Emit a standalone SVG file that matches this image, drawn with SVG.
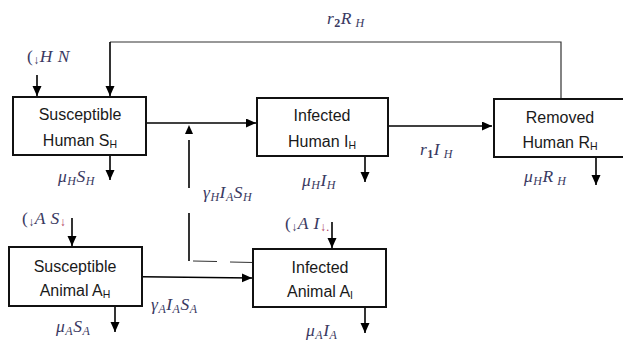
<svg xmlns="http://www.w3.org/2000/svg" width="623" height="348" viewBox="0 0 623 348">
<defs>
<marker id="ah" markerUnits="userSpaceOnUse" markerWidth="11" markerHeight="10" refX="10" refY="4.5" orient="auto">
<path d="M0,0 L10,4.5 L0,9 z" fill="#000"/>
</marker>
<style>
.box{fill:#fff;stroke:#111;stroke-width:2}
.bt{font-family:"Liberation Sans",Arial,sans-serif;font-size:16px;fill:#1a1a1a;text-anchor:middle}
.bs{font-size:10.5px}
.m{font-family:"Liberation Serif","Times New Roman",serif;font-style:italic;font-size:17.5px;fill:#3a3a62;letter-spacing:0.5px}
.s{font-size:12px}
.ln{fill:none;stroke:#000;stroke-width:1.6}
.fb{fill:none;stroke:#333;stroke-width:1.2}
</style>
</defs>
<rect width="623" height="348" fill="#fff"/>
<g id="connectors">
<path class="fb" d="M561,99 V42 H110"/>
<line class="ln" x1="110" y1="42" x2="110" y2="96" marker-end="url(#ah)"/>
<line class="ln" x1="37" y1="75" x2="37" y2="96" marker-end="url(#ah)"/>
<line class="ln" x1="146" y1="123" x2="256" y2="123" marker-end="url(#ah)"/>
<line class="ln" x1="388" y1="126" x2="492" y2="126" marker-end="url(#ah)"/>
<line class="ln" x1="189" y1="188" x2="189" y2="140"/>
<line class="ln" x1="189" y1="261" x2="189" y2="213"/>
<path d="M185,134 L189,125 L193,134 z" fill="#000"/>
<line class="fb" x1="193" y1="261" x2="217" y2="261.5"/>
<line class="fb" x1="230" y1="262" x2="253" y2="262.5"/>
<line class="ln" x1="142" y1="276.7" x2="252" y2="278" marker-end="url(#ah)"/>
<line class="ln" x1="110" y1="155" x2="110" y2="180" marker-end="url(#ah)"/>
<line class="ln" x1="365" y1="156" x2="365" y2="182" marker-end="url(#ah)"/>
<line class="ln" x1="596" y1="157" x2="596" y2="185" marker-end="url(#ah)"/>
<line class="ln" x1="72" y1="218" x2="72" y2="246" marker-end="url(#ah)"/>
<line class="ln" x1="332" y1="222" x2="332" y2="248" marker-end="url(#ah)"/>
<line class="ln" x1="115" y1="306" x2="115" y2="332" marker-end="url(#ah)"/>
<line class="ln" x1="365" y1="307" x2="365" y2="333" marker-end="url(#ah)"/>
</g>
<g id="susceptible-human">
<rect class="box" x="13" y="97" width="133" height="58"/>
<text class="bt" x="80" y="120">Susceptible</text>
<text class="bt" x="80" y="146">Human S<tspan class="bs" dy="2">H</tspan></text>
</g>
<g id="infected-human">
<rect class="box" x="257" y="98" width="131" height="58"/>
<text class="bt" x="322" y="121">Infected</text>
<text class="bt" x="322" y="147">Human I<tspan class="bs" dy="2">H</tspan></text>
</g>
<g id="removed-human">
<rect class="box" x="494" y="99" width="135" height="58"/>
<text class="bt" x="560" y="123">Removed</text>
<text class="bt" x="560" y="148">Human R<tspan class="bs" dy="2">H</tspan></text>
</g>
<g id="susceptible-animal">
<rect class="box" x="9" y="247" width="133" height="59"/>
<text class="bt" x="75" y="272">Susceptible</text>
<text class="bt" x="75" y="296">Animal A<tspan class="bs" dy="2">H</tspan></text>
</g>
<g id="infected-animal">
<rect class="box" x="253" y="249" width="133" height="58"/>
<text class="bt" x="320" y="273">Infected</text>
<text class="bt" x="320" y="297">Animal A<tspan class="bs" dy="2">I</tspan></text>
</g>
<g id="labels">
<text class="m" x="27" y="62"><tspan font-style="normal">(</tspan><tspan class="s" dy="2">↓</tspan><tspan dy="-2">H N</tspan></text>
<text class="m" x="327" y="24">r<tspan class="s" dy="3" font-weight="bold" font-style="normal">2</tspan><tspan dy="-3">R</tspan><tspan class="s" dy="3"> H</tspan></text>
<text class="m" x="58" y="182">μ<tspan class="s" dy="3">H</tspan><tspan dy="-3">S</tspan><tspan class="s" dy="3">H</tspan></text>
<text class="m" x="203" y="198">γ<tspan class="s" dy="3">H</tspan><tspan dy="-3">I</tspan><tspan class="s" dy="3">A</tspan><tspan dy="-3">S</tspan><tspan class="s" dy="3">H</tspan></text>
<text class="m" x="302" y="186">μ<tspan class="s" dy="3">H</tspan><tspan dy="-3">I</tspan><tspan class="s" dy="3">H</tspan></text>
<text class="m" x="420" y="155">r<tspan class="s" dy="3" font-weight="bold" font-style="normal">1</tspan><tspan dy="-3">I</tspan><tspan class="s" dy="3"> H</tspan></text>
<text class="m" x="524" y="182">μ<tspan class="s" dy="3">H</tspan><tspan dy="-3">R</tspan><tspan class="s" dy="3"> H</tspan></text>
<text class="m" x="22" y="224"><tspan font-style="normal">(</tspan><tspan class="s" dy="2">↓</tspan><tspan dy="-2">A S</tspan><tspan class="s" dy="2" fill="#b04060">↓</tspan></text>
<text class="m" x="285" y="229"><tspan font-style="normal">(</tspan><tspan class="s" dy="2">↓</tspan><tspan dy="-2">A I</tspan><tspan class="s" dy="2" fill="#b04060">↓.</tspan></text>
<text class="m" x="151" y="310">γ<tspan class="s" dy="3">A</tspan><tspan dy="-3">I</tspan><tspan class="s" dy="3">A</tspan><tspan dy="-3">S</tspan><tspan class="s" dy="3">A</tspan></text>
<text class="m" x="56" y="332">μ<tspan class="s" dy="3">A</tspan><tspan dy="-3">S</tspan><tspan class="s" dy="3">A</tspan></text>
<text class="m" x="306" y="336">μ<tspan class="s" dy="3">A</tspan><tspan dy="-3">I</tspan><tspan class="s" dy="3">A</tspan></text>
</g>
</svg>
